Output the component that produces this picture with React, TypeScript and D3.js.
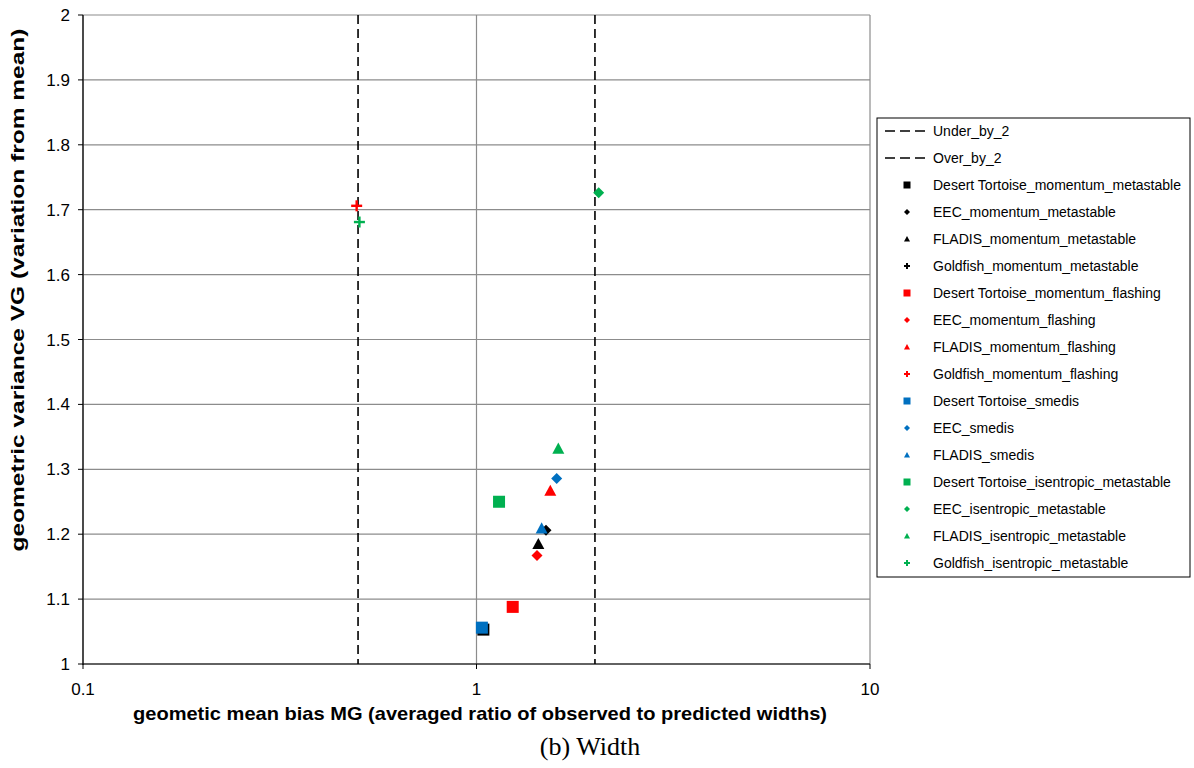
import React from "react";
import * as d3 from "d3";

const seriesNames = [
  "Desert Tortoise_momentum_metastable",
  "EEC_momentum_metastable",
  "FLADIS_momentum_metastable",
  "Goldfish_momentum_metastable",
  "Desert Tortoise_momentum_flashing",
  "EEC_momentum_flashing",
  "FLADIS_momentum_flashing",
  "Goldfish_momentum_flashing",
  "Desert Tortoise_smedis",
  "EEC_smedis",
  "FLADIS_smedis",
  "Desert Tortoise_isentropic_metastable",
  "EEC_isentropic_metastable",
  "FLADIS_isentropic_metastable",
  "Goldfish_isentropic_metastable",
];
const seriesShapes = ["square", "diamond", "triangle", "plus", "square", "diamond", "triangle", "plus", "square", "diamond", "triangle", "square", "diamond", "triangle", "plus"];
const seriesColors = ["#000000", "#000000", "#000000", "#000000", "#FF0000", "#FF0000", "#FF0000", "#FF0000", "#0070C0", "#0070C0", "#0070C0", "#00B050", "#00B050", "#00B050", "#00B050"];
// null = no point shown
const mgValues: (number | null)[] = [1.041, 1.502, 1.436, null, 1.236, 1.425, 1.54, 0.496, 1.032, 1.599, 1.464, 1.141, 2.044, 1.614, 0.504];
const vgValues: (number | null)[] = [1.053, 1.206, 1.185, null, 1.088, 1.167, 1.267, 1.706, 1.056, 1.286, 1.209, 1.25, 1.726, 1.332, 1.681];

const refLineNames = ["Under_by_2", "Over_by_2"];
const refLineValues = [0.5, 2];

const xTicks = [0.1, 1, 10];
const yTicks = [1, 1.1, 1.2, 1.3, 1.4, 1.5, 1.6, 1.7, 1.8, 1.9, 2];

const L = 83, R = 870, T = 15, B = 664;

function Marker({ shape, color, cx, cy, s }: { shape: string; color: string; cx: number; cy: number; s: number }) {
  if (shape === "square") {
    return <rect x={cx - s / 2} y={cy - s / 2} width={s} height={s} fill={color} />;
  }
  if (shape === "diamond") {
    const h = s * 0.5;
    return <path d={`M${cx},${cy - h}L${cx + h},${cy}L${cx},${cy + h}L${cx - h},${cy}Z`} fill={color} />;
  }
  if (shape === "triangle") {
    const h = s * 0.5;
    return <path d={`M${cx},${cy - h}L${cx + h},${cy + h * 0.85}L${cx - h},${cy + h * 0.85}Z`} fill={color} />;
  }
  const h = s * 0.5;
  const w = Math.max(2, s * 0.22);
  return (
    <g fill={color}>
      <rect x={cx - h} y={cy - w / 2} width={2 * h} height={w} />
      <rect x={cx - w / 2} y={cy - h} width={w} height={2 * h} />
    </g>
  );
}

export default function App() {
  const x = d3.scaleLog().domain([0.1, 10]).range([L, R]);
  const y = d3.scaleLinear().domain([1, 2]).range([B, T]);
  const font = "Liberation Sans, Arial, sans-serif";
  const sizeFor = (shape: string) => (shape === "square" ? 12 : shape === "diamond" ? 11 : shape === "triangle" ? 12 : 11);
  const legendSize = (shape: string) => (shape === "square" ? 7 : 6);

  const legX = 877, legY = 118, legW = 313, legH = 459;
  const rowY0 = 131, rowStep = 27;

  return (
    <svg width={1194} height={768} style={{ position: "absolute", left: 0, top: 0 }}>
      <rect width={1194} height={768} fill="#fff" />
      {/* grid */}
      {yTicks.map((t) => (
        <line key={"g" + t} x1={L} x2={R} y1={y(t)} y2={y(t)} stroke="#8c8c8c" strokeWidth={1.2} />
      ))}
      {xTicks.map((t) => (
        <line key={"gx" + t} x1={x(t)} x2={x(t)} y1={T} y2={B} stroke="#8c8c8c" strokeWidth={1.2} />
      ))}
      {/* ref lines */}
      {refLineValues.map((v, i) => (
        <line key={"r" + i} x1={x(v)} x2={x(v)} y1={T} y2={B} stroke="#000" strokeWidth={1.6} strokeDasharray="9,5" />
      ))}
      {/* axes */}
      <line x1={L} x2={L} y1={T} y2={B + 1} stroke="#000" strokeWidth={1.2} />
      <line x1={L} x2={R} y1={B} y2={B} stroke="#000" strokeWidth={1.2} />
      {yTicks.map((t) => (
        <line key={"yt" + t} x1={L - 5} x2={L} y1={y(t)} y2={y(t)} stroke="#000" strokeWidth={1} />
      ))}
      {xTicks.map((t) => (
        <line key={"xt" + t} x1={x(t)} x2={x(t)} y1={B} y2={B + 5} stroke="#000" strokeWidth={1} />
      ))}
      {yTicks.map((t) => (
        <text key={"yl" + t} x={70} y={y(t) + 6} textAnchor="end" fontFamily={font} fontSize={17}>
          {d3.format("~g")(t)}
        </text>
      ))}
      {xTicks.map((t) => (
        <text key={"xl" + t} x={x(t)} y={695} textAnchor="middle" fontFamily={font} fontSize={17}>
          {d3.format("~g")(t)}
        </text>
      ))}
      {/* points */}
      {seriesNames.map((n, i) => {
        const mv = mgValues[i], vv = vgValues[i];
        if (mv == null || vv == null) return null;
        return <Marker key={n} shape={seriesShapes[i]} color={seriesColors[i]} cx={x(mv)} cy={y(vv)} s={sizeFor(seriesShapes[i])} />;
      })}
      {/* axis titles */}
      <text x={480} y={720} textAnchor="middle" fontFamily={font} fontWeight="bold" fontSize={18.5} textLength={694} lengthAdjust="spacingAndGlyphs">
        geometic mean bias MG (averaged ratio of observed to predicted  widths)
      </text>
      <text transform={`translate(24,290) rotate(-90)`} textAnchor="middle" fontFamily={font} fontWeight="bold" fontSize={18.5} textLength={523} lengthAdjust="spacingAndGlyphs">
        geometric variance VG (variation from mean)
      </text>
      <text x={590} y={755} textAnchor="middle" fontFamily="Liberation Serif, Times New Roman, serif" fontSize={26}>
        (b) Width
      </text>
      {/* legend */}
      <rect x={legX} y={legY} width={legW} height={legH} fill="#fff" stroke="#000" strokeWidth={1} />
      {refLineNames.map((n, i) => (
        <g key={n}>
          <line x1={885} x2={929} y1={rowY0 + i * rowStep} y2={rowY0 + i * rowStep} stroke="#000" strokeWidth={1.3} strokeDasharray="10,5" />
          <text x={933} y={rowY0 + i * rowStep + 5} fontFamily={font} fontSize={14}>{n}</text>
        </g>
      ))}
      {seriesNames.map((n, i) => {
        const ry = rowY0 + (i + 2) * rowStep;
        return (
          <g key={"l" + n}>
            <Marker shape={seriesShapes[i]} color={seriesColors[i]} cx={907} cy={ry} s={legendSize(seriesShapes[i])} />
            <text x={933} y={ry + 5} fontFamily={font} fontSize={14}>{n}</text>
          </g>
        );
      })}
    </svg>
  );
}
